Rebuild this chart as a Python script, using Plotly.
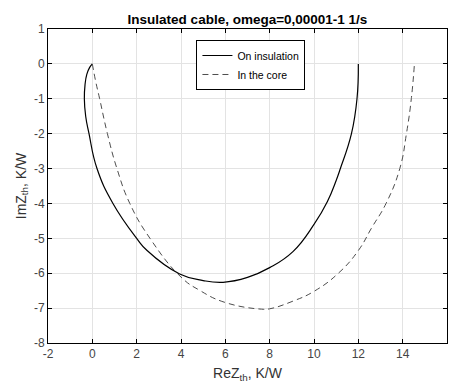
import plotly.graph_objects as go

# Solid curve: "On insulation"
ins_re = [0.0, -0.12, -0.25, -0.33, -0.36, -0.3, -0.15, 0.21, 0.93, 2.0, 2.47, 3.94, 5.0, 5.9, 7.0, 8.0, 9.05, 10.0, 10.6, 11.0, 11.19, 11.69, 11.94, 12.0]
ins_im = [0.0, -0.1, -0.3, -0.6, -1.0, -1.5, -2.0, -3.0, -4.0, -5.0, -5.35, -6.02, -6.21, -6.26, -6.12, -5.84, -5.38, -4.6, -3.95, -3.34, -3.0, -2.0, -1.0, 0.0]

# Dashed curve: "In the core"
core_re = [0.0, 0.15, 0.33, 0.68, 1.11, 1.69, 2.6, 4.0, 4.84, 6.0, 7.64, 8.0, 9.05, 10.0, 11.1, 12.0, 12.6, 13.25, 13.87, 14.17, 14.39, 14.53]
core_im = [0.0, -0.5, -1.0, -2.0, -3.0, -4.0, -5.0, -6.11, -6.49, -6.84, -7.03, -7.02, -6.8, -6.52, -6.0, -5.35, -4.7, -4.0, -3.0, -2.0, -1.0, 0.0]

x_ticks = [-2, 0, 2, 4, 6, 8, 10, 12, 14, 16]
y_ticks = [1, 0, -1, -2, -3, -4, -5, -6, -7, -8]

title_text = "Insulated cable, omega=0,00001-1 1/s"
legend_names = ["On insulation", "In the core"]

FONT = "Liberation Sans, Arial, sans-serif"

fig = go.Figure()
fig.add_trace(go.Scatter(x=ins_re, y=ins_im, mode="lines", name=legend_names[0],
                         line=dict(color="black", width=1.2, shape="spline", smoothing=1.3)))
fig.add_trace(go.Scatter(x=core_re, y=core_im, mode="lines", name=legend_names[1],
                         line=dict(color="#4d4d4d", width=1, dash="6px,4px", shape="spline", smoothing=1.3)))

axis_common = dict(showline=True, linecolor="black", linewidth=1, mirror="ticks",
                   ticks="inside", ticklen=4, tickcolor="black",
                   showgrid=True, gridcolor="#e3e3e3", gridwidth=1, zeroline=False,
                   tickfont=dict(family=FONT, size=12, color="#444444"))

fig.update_layout(
    width=450, height=384,
    margin=dict(l=48, r=3, t=29, b=41),
    paper_bgcolor="white", plot_bgcolor="white",
    title=dict(text="<b>" + title_text + "</b>", x=0.5, xref="paper", xanchor="center",
               y=1, yref="paper", yanchor="bottom", pad=dict(b=5),
               font=dict(family=FONT, size=13.5, color="black")),
    xaxis=dict(range=[-2, 16], tickvals=x_ticks, ticktext=[str(v) for v in x_ticks],
               title=dict(text="ReZ<sub>th</sub>, K/W", standoff=7,
                          font=dict(family=FONT, size=14, color="#333333")),
               **axis_common),
    yaxis=dict(range=[-8, 1], tickvals=y_ticks, ticktext=[str(v) for v in y_ticks],
               title=dict(text="ImZ<sub>th</sub>, K/W", standoff=4,
                          font=dict(family=FONT, size=14, color="#333333")),
               **axis_common),
    legend=dict(x=0.372, y=0.965, xanchor="left", yanchor="top",
                bordercolor="black", borderwidth=1, bgcolor="white",
                font=dict(family=FONT, size=10.5, color="black"),
                tracegroupgap=0, itemwidth=30),
    showlegend=True,
)

fig.write_html("out.html")
